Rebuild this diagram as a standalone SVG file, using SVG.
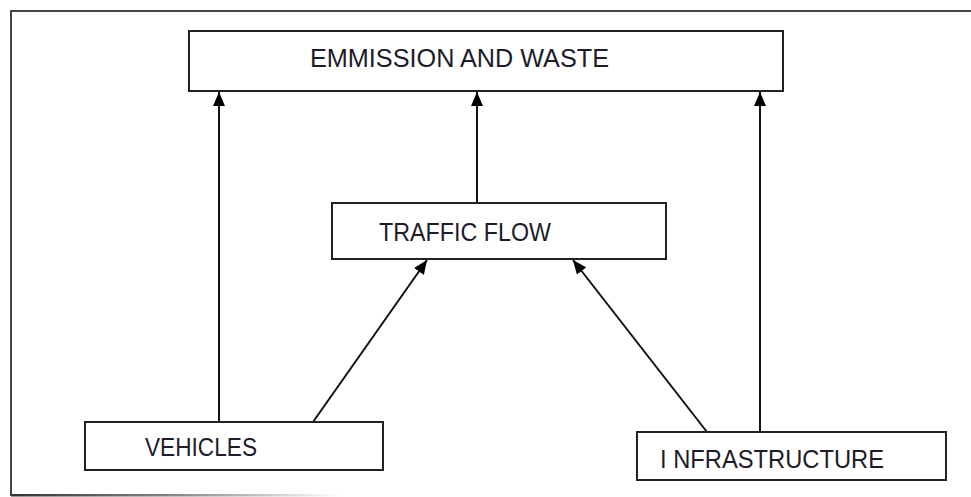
<svg xmlns="http://www.w3.org/2000/svg" width="971" height="497" viewBox="0 0 971 497">
  <style>
    .box { fill: #ffffff; stroke: #222222; stroke-width: 2; }
    .lbl { font-family: "Liberation Sans", Arial, sans-serif; font-size: 25px; fill: #1c1c2a; }
    .conn { stroke: #111111; stroke-width: 2; fill: none; marker-end: url(#arrow); }
    .frame { stroke: #444444; stroke-width: 2; fill: none; }
  </style>
  <defs>
    <marker id="arrow" markerWidth="14" markerHeight="12" viewBox="0 0 14 12" refX="14" refY="6" orient="auto" markerUnits="userSpaceOnUse">
      <path d="M0,0 L14,6 L0,12 Z" fill="#000000"/>
    </marker>
    <linearGradient id="fade" x1="0" y1="0" x2="1" y2="0">
      <stop offset="0" stop-color="#333333"/>
      <stop offset="0.5" stop-color="#888888"/>
      <stop offset="1" stop-color="#ffffff"/>
    </linearGradient>
  </defs>
  <rect width="971" height="497" fill="#ffffff"/>
  <g id="frame">
    <path class="frame" d="M971,11 L11,11 L11,496"/>
    <rect x="11" y="494" width="330" height="2.5" fill="url(#fade)"/>
  </g>
  <g id="connectors">
    <line class="conn" x1="219" y1="422" x2="219" y2="92"/>
    <line class="conn" x1="477" y1="203" x2="477" y2="92"/>
    <line class="conn" x1="760" y1="432" x2="760" y2="92"/>
    <line class="conn" x1="313" y1="422" x2="427" y2="260"/>
    <line class="conn" x1="707" y1="432" x2="573" y2="260"/>
  </g>
  <g id="emission">
    <rect class="box" x="189" y="31" width="594" height="60"/>
    <text class="lbl" x="310" y="67" textLength="299" lengthAdjust="spacingAndGlyphs">EMMISSION AND WASTE</text>
  </g>
  <g id="traffic">
    <rect class="box" x="332" y="203" width="334" height="56"/>
    <text class="lbl" x="379" y="241" textLength="172" lengthAdjust="spacingAndGlyphs">TRAFFIC FLOW</text>
  </g>
  <g id="vehicles">
    <rect class="box" x="85" y="422" width="298" height="48"/>
    <text class="lbl" x="145" y="456" textLength="112" lengthAdjust="spacingAndGlyphs">VEHICLES</text>
  </g>
  <g id="infrastructure">
    <rect class="box" x="637" y="432" width="309" height="48"/>
    <text class="lbl" x="660" y="468" textLength="224" lengthAdjust="spacingAndGlyphs">I NFRASTRUCTURE</text>
  </g>
</svg>
